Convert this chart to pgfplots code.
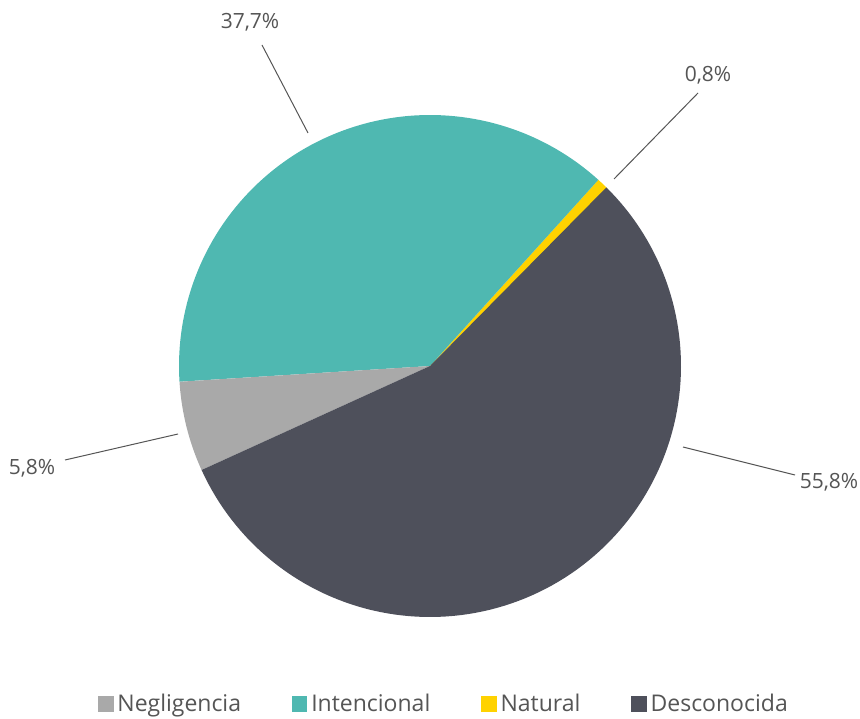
\documentclass[border=0pt]{standalone}
\usepackage{fontspec}
\setmainfont{Open Sans}
\usepackage{pgfplots}
\usepackage{pgfplotstable}
\pgfplotsset{compat=1.18}

\definecolor{cNeg}{HTML}{A9A9A9}
\definecolor{cInt}{HTML}{4FB8B1}
\definecolor{cNat}{HTML}{FFD200}
\definecolor{cDes}{HTML}{4E505B}
\definecolor{txt}{HTML}{555555}

% shares in percent, counter-clockwise from 45 degrees
\def\vNat{0.8}
\def\vInt{37.7}
\def\vNeg{5.8}
\def\vDes{55.8}
\pgfmathsetmacro\aA{45}
\pgfmathsetmacro\aB{\aA+3.6*\vNat}
\pgfmathsetmacro\aC{\aB+3.6*\vInt}
\pgfmathsetmacro\aD{\aC+3.6*\vNeg}
\pgfmathsetmacro\aE{\aD+3.6*\vDes}

\begin{document}
\begin{tikzpicture}
\begin{axis}[
	scale only axis, width=430pt, height=359pt,
	xmin=0, xmax=860, ymin=0, ymax=718,
	hide axis, clip=false,
	legend columns=4,
	legend style={at={(axis cs:445,14)}, anchor=center, draw=none,
		font=\fontsize{11.5}{14}\selectfont, text=txt,
		/tikz/every even column/.append style={column sep=23.5pt}},
	legend image code/.code={\fill[#1] (0pt,-3.6pt) rectangle (7.2pt,3.6pt);},
]
\coordinate (bl) at (axis cs:0,0);
\coordinate (tr) at (axis cs:860,718);
\addplot[fill=cNat, draw=none, domain=\aA:\aB, samples=5, forget plot]
	({430+251*cos(x)},{352+251*sin(x)}) -- (axis cs:430,352) -- cycle;
\addplot[fill=cInt, draw=none, domain=\aB:\aC, samples=90, forget plot]
	({430+251*cos(x)},{352+251*sin(x)}) -- (axis cs:430,352) -- cycle;
\addplot[fill=cNeg, draw=none, domain=\aC:\aD, samples=20, forget plot]
	({430+251*cos(x)},{352+251*sin(x)}) -- (axis cs:430,352) -- cycle;
\addplot[fill=cDes, draw=none, domain=\aD:\aE, samples=120, forget plot]
	({430+251*cos(x)},{352+251*sin(x)}) -- (axis cs:430,352) -- cycle;

% leader lines
\addplot[txt, line width=0.5pt, forget plot] coordinates {(308,585) (262,673)};
\addplot[txt, line width=0.5pt, forget plot] coordinates {(614,539) (698,625)};
\addplot[txt, line width=0.5pt, forget plot] coordinates {(65,258) (178,284)};
\addplot[txt, line width=0.5pt, forget plot] coordinates {(683,271) (795,243)};

\node[text=txt, font=\fontsize{10.5}{12}\selectfont] at (axis cs:250,696) {37,7\%};
\node[text=txt, font=\fontsize{10.5}{12}\selectfont] at (axis cs:708,643) {0,8\%};
\node[text=txt, font=\fontsize{10.5}{12}\selectfont] at (axis cs:32,250) {5,8\%};
\node[text=txt, font=\fontsize{10.5}{12}\selectfont] at (axis cs:829,236) {55,8\%};

\addlegendimage{cNeg}\addlegendentry{Negligencia}
\addlegendimage{cInt}\addlegendentry{Intencional}
\addlegendimage{cNat}\addlegendentry{Natural}
\addlegendimage{cDes}\addlegendentry{Desconocida}
\end{axis}
\pgfresetboundingbox
\path (bl) rectangle (tr);
\end{tikzpicture}
\end{document}
